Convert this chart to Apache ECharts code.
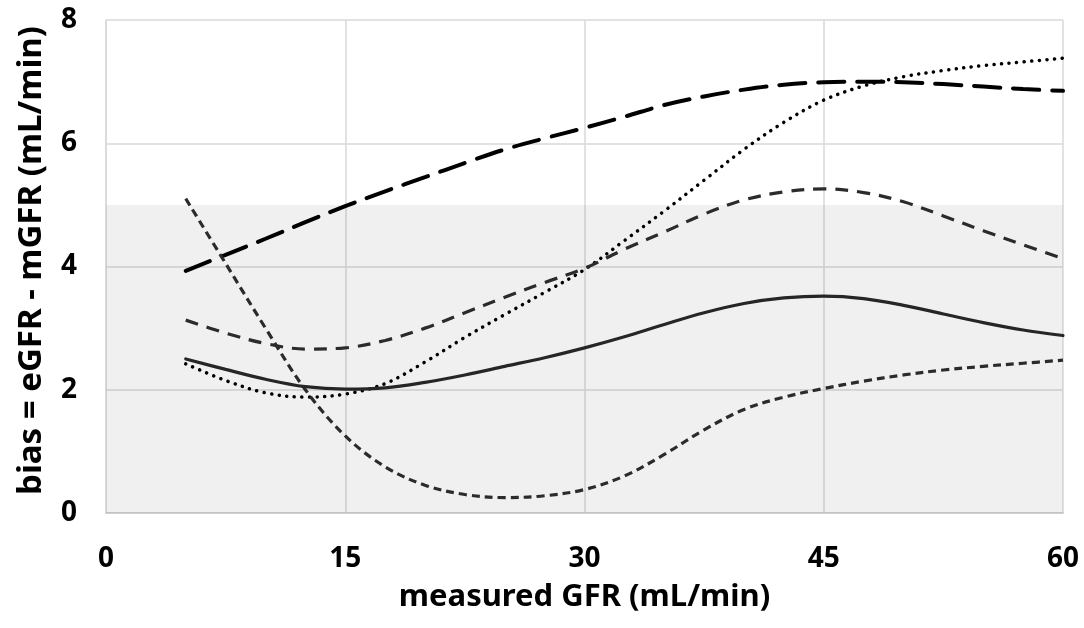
<!DOCTYPE html>
<html><head><meta charset="utf-8">
<script src="https://cdn.jsdelivr.net/npm/echarts@6/dist/echarts.min.js"></script>
<style>html,body{margin:0;padding:0;background:#fff}#c{width:1084px;height:628px}</style>
</head><body><div id="c"></div>
<script>
const xs = [5,7.5,10,12.5,15,17.5,20,22.5,25,27.5,30,32.5,35,37.5,40,42.5,45,47.5,50,52.5,55,57.5,60];
const solidVals = [2.50,2.33,2.17,2.05,2.01,2.03,2.12,2.24,2.38,2.52,2.68,2.86,3.06,3.25,3.40,3.49,3.52,3.48,3.37,3.23,3.09,2.97,2.88];
const longDashVals = [3.93,4.19,4.45,4.72,4.98,5.22,5.45,5.68,5.90,6.08,6.25,6.43,6.62,6.76,6.87,6.95,6.99,7.00,6.99,6.96,6.92,6.88,6.85];
const dottedVals = [2.42,2.15,1.95,1.88,1.93,2.10,2.45,2.85,3.22,3.58,3.95,4.42,4.90,5.40,5.90,6.34,6.70,6.93,7.08,7.18,7.26,7.32,7.38];
const medDashVals = [3.13,2.92,2.75,2.66,2.68,2.80,3.00,3.25,3.50,3.74,3.97,4.28,4.56,4.85,5.08,5.21,5.26,5.20,5.05,4.82,4.58,4.35,4.13];
const shortDashVals = [5.10,4.05,3.00,2.00,1.25,0.75,0.45,0.30,0.25,0.28,0.38,0.60,0.95,1.35,1.68,1.88,2.02,2.14,2.24,2.32,2.38,2.43,2.48];
const bandRange = [0,5];
const xTitle = 'measured GFR (mL/min)';
const yTitle = 'bias = eGFR - mGFR (mL/min)';

const pair = v => xs.map((x,i)=>[x,v[i]]);
const font = '"Noto Sans", "Open Sans", sans-serif';
function line(name, vals, color, width, type, cap) {
  return {name, type:'line', data:pair(vals), smooth:0.35, symbol:'none',
    lineStyle:{color, width, type, cap:cap||'butt'}, z:3};
}
const series = [
  line('long', longDashVals, '#000', 4, [26,13], 'round'),
  line('dotted', dottedVals, '#000', 3.5, [0.1,7.5], 'round'),
  line('med', medDashVals, '#2b2b2b', 3.2, [13,9], 'butt'),
  line('short', shortDashVals, '#2b2b2b', 3.2, [8,5], 'butt'),
  line('solid', solidVals, '#262626', 3.2, 'solid', 'round')
];
series[0].markArea = {silent:true, itemStyle:{color:'rgba(0,0,0,0.06)'},
  data:[[{yAxis:bandRange[0], xAxis:0},{yAxis:bandRange[1], xAxis:60}]]};

const chart = echarts.init(document.getElementById('c'));
chart.setOption({
  animation:false,
  grid:{left:106, right:21, top:20, bottom:115},
  xAxis:{type:'value', min:0, max:60, interval:15,
    name:xTitle, nameLocation:'middle', nameGap:69,
    nameTextStyle:{fontFamily:font, fontWeight:'bold', fontSize:31, color:'#000'},
    axisLine:{show:true, lineStyle:{color:'#d0d0d0', width:2}},
    axisTick:{show:false},
    axisLabel:{fontFamily:font, fontWeight:'bold', fontSize:28, color:'#000', margin:32},
    splitLine:{show:true, lineStyle:{color:'#d9d9d9', width:1.5}}},
  yAxis:{type:'value', min:0, max:8, interval:2,
    name:yTitle, nameLocation:'middle', nameGap:58,
    nameTextStyle:{fontFamily:font, fontWeight:'bold', fontSize:33, color:'#000', padding:[0,0,0,12]},
    axisLine:{show:true, lineStyle:{color:'#d9d9d9', width:1.5}},
    axisTick:{show:false},
    axisLabel:{fontFamily:font, fontWeight:'bold', fontSize:28, color:'#000', margin:29},
    splitLine:{show:true, lineStyle:{color:'#d9d9d9', width:1.5}}},
  series
});
</script></body></html>
